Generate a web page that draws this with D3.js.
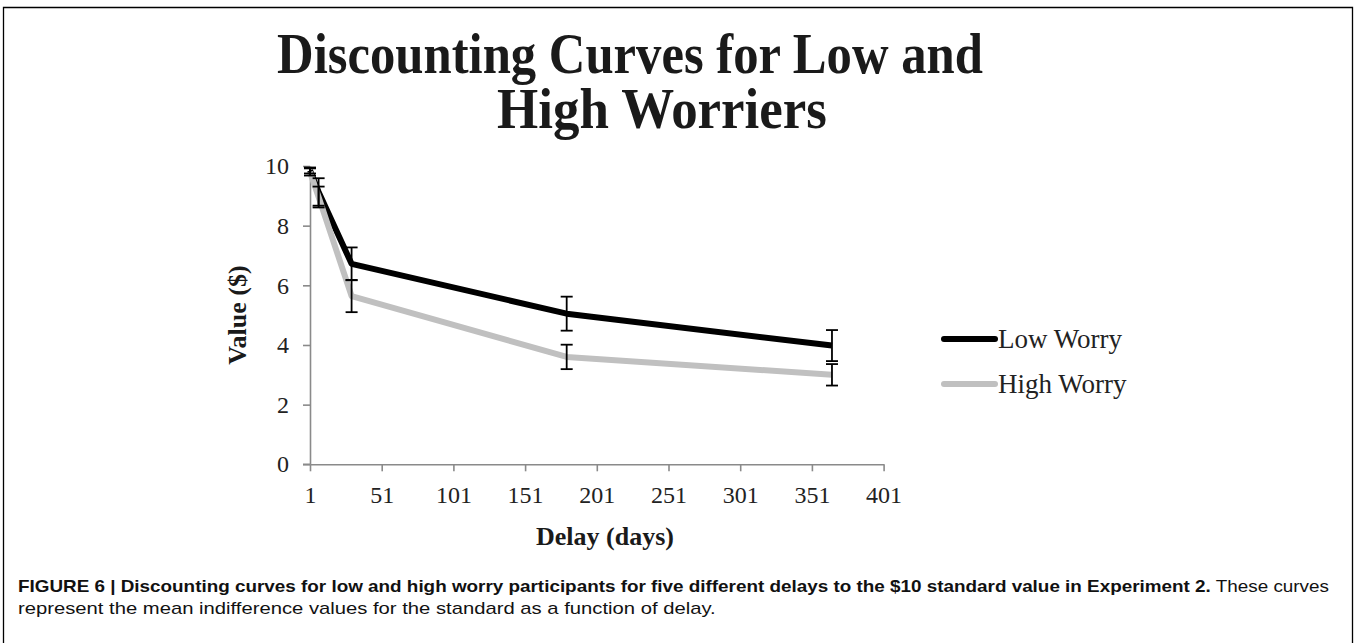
<!DOCTYPE html>
<html>
<head>
<meta charset="utf-8">
<script src="https://cdn.jsdelivr.net/npm/d3@7"></script>
<style>
  html, body { margin: 0; padding: 0; background: #fff; }
  svg { display: block; }
</style>
</head>
<body>
<svg id="chart" width="1355" height="643"></svg>
<script>
// Delay (days) at which indifference values were measured
const delays = [1, 7, 30, 180, 365];
// Mean indifference values ($) and standard errors per group
const lowWorry = [9.85, 9.13, 6.72, 5.05, 3.98];
const lowWorryErr = [0.1, 0.46, 0.55, 0.57, 0.52];
const highWorry = [9.8, 8.96, 5.64, 3.6, 3.0];
const highWorryErr = [0.12, 0.35, 0.54, 0.41, 0.36];
// Axis ticks
const xTicks = [1, 51, 101, 151, 201, 251, 301, 351, 401];
const yTicks = [0, 2, 4, 6, 8, 10];
const seriesNames = ["Low Worry", "High Worry"];
const seriesColors = ["#000000", "#c0c0c0"];

const svg = d3.select("#chart");
const serif = "'Liberation Serif', 'Times New Roman', serif";
const sans = "'Liberation Sans Narrow', 'Liberation Sans', Arial, sans-serif";

// Outer figure frame (open at the bottom edge)
svg.append("path")
  .attr("d", "M3.5,660 L3.5,7.5 L1352.5,7.5 L1352.5,660")
  .attr("fill", "none").attr("stroke", "#000").attr("stroke-width", 1.3);

// Fit a text element to a given width by horizontal scaling
function fitWidth(sel, x0, width) {
  const w = sel.node().getComputedTextLength();
  const s = width / w;
  sel.attr("transform", `translate(${x0},0) scale(${s},1) translate(${-x0},0)`);
}

// Title
const t1 = svg.append("text")
  .attr("x", 630).attr("y", 73).attr("text-anchor", "middle")
  .style("font-family", serif).style("font-weight", "bold").style("font-size", "57px")
  .attr("fill", "#1a1a1a")
  .text("Discounting Curves for Low and");
fitWidth(t1, 630, 706);
const t2 = svg.append("text")
  .attr("x", 662).attr("y", 128).attr("text-anchor", "middle")
  .style("font-family", serif).style("font-weight", "bold").style("font-size", "57px")
  .attr("fill", "#1a1a1a")
  .text("High Worriers");
fitWidth(t2, 662, 330);

// Scales
const x = d3.scaleLinear().domain([1, 401]).range([310, 883.6]);
const y = d3.scaleLinear().domain([0, 10]).range([464.3, 166]);

// Axes
const axisColor = "#8a8a8a";
const gx = svg.append("g").attr("transform", `translate(0,${y(0)})`)
  .call(d3.axisBottom(x).tickValues(xTicks).tickSize(7).tickSizeOuter(0).tickPadding(10));
const gy = svg.append("g").attr("transform", `translate(${x(1)},0)`)
  .call(d3.axisLeft(y).tickValues(yTicks).tickSize(7).tickSizeOuter(0).tickPadding(14));
[gx, gy].forEach(g => {
  g.select(".domain").attr("stroke", axisColor).attr("stroke-width", 1.6);
  g.selectAll(".tick line").attr("stroke", axisColor).attr("stroke-width", 1.6);
  g.selectAll(".tick text")
    .style("font-family", serif).style("font-size", "24px").attr("fill", "#222");
});
// extend x-axis line left to meet the zero tick
gx.append("line").attr("x1", x(1) - 7).attr("x2", x(1)).attr("y1", 0).attr("y2", 0)
  .attr("stroke", axisColor).attr("stroke-width", 1.6);
gx.selectAll(".tick text").attr("dy", "0.9em");

// Axis titles
svg.append("text")
  .attr("x", 605).attr("y", 545).attr("text-anchor", "middle")
  .style("font-family", serif).style("font-weight", "bold").style("font-size", "26px")
  .attr("fill", "#1a1a1a").text("Delay (days)");
svg.append("text")
  .attr("transform", `translate(246,${(y(0) + y(10)) / 2}) rotate(-90)`)
  .attr("text-anchor", "middle")
  .style("font-family", serif).style("font-weight", "bold").style("font-size", "26px")
  .attr("fill", "#1a1a1a").text("Value ($)");

// Series lines
const series = [
  { name: seriesNames[0], values: lowWorry, err: lowWorryErr, color: seriesColors[0] },
  { name: seriesNames[1], values: highWorry, err: highWorryErr, color: seriesColors[1] }
];
const line = d3.line().x(d => x(d[0])).y(d => y(d[1]));
series.forEach(s => {
  svg.append("path")
    .datum(delays.map((d, i) => [d, s.values[i]]))
    .attr("d", line)
    .attr("fill", "none").attr("stroke", s.color)
    .attr("stroke-width", 6).attr("stroke-linejoin", "round").attr("stroke-linecap", "butt");
});

// Error bars
const capHalf = 6;
series.forEach(s => {
  const g = svg.append("g").attr("stroke", "#000").attr("stroke-width", 1.8);
  delays.forEach((d, i) => {
    const cx = x(d), top = y(s.values[i] + s.err[i]), bot = y(s.values[i] - s.err[i]);
    g.append("line").attr("x1", cx).attr("x2", cx).attr("y1", top).attr("y2", bot);
    g.append("line").attr("x1", cx - capHalf).attr("x2", cx + capHalf).attr("y1", top).attr("y2", top);
    g.append("line").attr("x1", cx - capHalf).attr("x2", cx + capHalf).attr("y1", bot).attr("y2", bot);
  });
});

// Legend
const legend = svg.append("g");
series.forEach((s, i) => {
  const ly = 339 + i * 45;
  legend.append("line")
    .attr("x1", 944).attr("x2", 995).attr("y1", ly).attr("y2", ly)
    .attr("stroke", s.color).attr("stroke-width", 6).attr("stroke-linecap", "round");
  legend.append("text")
    .attr("x", 998).attr("y", ly).attr("dy", "0.35em")
    .style("font-family", serif).style("font-size", "27px").attr("fill", "#222")
    .text(s.name);
});

// Figure caption
const cap1 = svg.append("text")
  .attr("x", 18).attr("y", 592)
  .style("font-family", sans).style("font-size", "16px").attr("fill", "#111");
cap1.append("tspan").style("font-weight", "bold")
  .text("FIGURE 6 | Discounting curves for low and high worry participants for five different delays to the $10 standard value in Experiment 2.");
cap1.append("tspan").text(" These curves");
fitWidth(cap1, 18, 1312);
const cap2 = svg.append("text")
  .attr("x", 18).attr("y", 614)
  .style("font-family", sans).style("font-size", "16px").attr("fill", "#111")
  .text("represent the mean indifference values for the standard as a function of delay.");
fitWidth(cap2, 18, 698);
</script>
</body>
</html>
